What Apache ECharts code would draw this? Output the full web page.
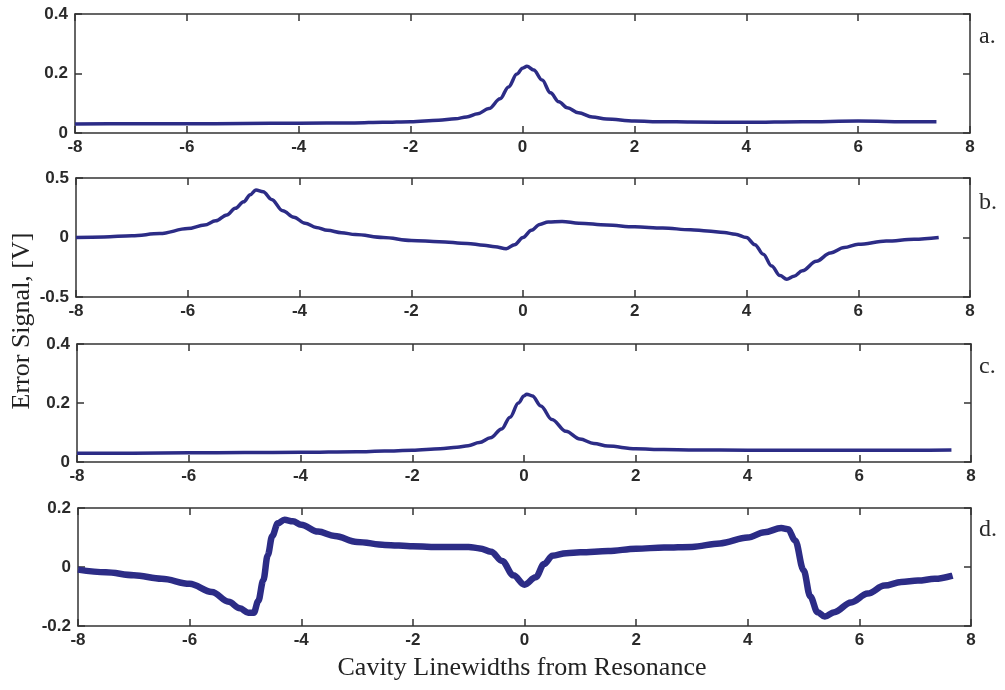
<!DOCTYPE html>
<html>
<head>
<meta charset="utf-8">
<script src="https://cdn.jsdelivr.net/npm/echarts@6/dist/echarts.min.js"></script>
<style>
  html, body { margin: 0; padding: 0; background: #fff; }
  #chart { width: 1005px; height: 690px; }
</style>
</head>
<body>
<div id="chart"></div>
<script>
// Detuning in cavity linewidths and measured error signal (V) for the four traces.
const xA = [-8, -7, -6, -5, -4, -3, -2.5, -2, -1.5, -1.2, -1, -0.8, -0.6, -0.4, -0.25, -0.1, 0, 0.08, 0.2, 0.35, 0.5, 0.65, 0.8, 1, 1.25, 1.5, 2, 2.5, 3, 4, 5, 6, 7, 7.4];
const yA = [0.030, 0.031, 0.031, 0.032, 0.033, 0.034, 0.036, 0.038, 0.043, 0.048, 0.054, 0.065, 0.082, 0.115, 0.155, 0.198, 0.218, 0.224, 0.212, 0.178, 0.135, 0.105, 0.085, 0.068, 0.054, 0.047, 0.040, 0.038, 0.037, 0.036, 0.038, 0.040, 0.038, 0.038];

const xB = [-8, -7.5, -7, -6.5, -6, -5.7, -5.5, -5.3, -5.15, -5, -4.88, -4.78, -4.65, -4.5, -4.3, -4.1, -3.9, -3.7, -3.5, -3.25, -3, -2.5, -2, -1.5, -1, -0.7, -0.5, -0.3, -0.15, 0, 0.15, 0.3, 0.45, 0.7, 1, 1.5, 2, 2.5, 3, 3.3, 3.6, 3.8, 4, 4.15, 4.3, 4.45, 4.6, 4.72, 4.85, 5, 5.25, 5.5, 5.75, 6, 6.5, 7, 7.44];
const yB = [0.0, 0.005, 0.015, 0.033, 0.075, 0.105, 0.14, 0.19, 0.245, 0.30, 0.36, 0.40, 0.385, 0.32, 0.225, 0.17, 0.12, 0.085, 0.06, 0.04, 0.025, 0.0, -0.025, -0.035, -0.05, -0.065, -0.078, -0.095, -0.06, 0.0, 0.06, 0.11, 0.13, 0.135, 0.12, 0.105, 0.09, 0.08, 0.065, 0.055, 0.042, 0.028, 0.0, -0.06, -0.14, -0.24, -0.32, -0.35, -0.325, -0.28, -0.2, -0.13, -0.085, -0.057, -0.03, -0.015, 0.0];

const xC = [-8, -7, -6, -5, -4, -3, -2.5, -2, -1.5, -1.2, -1, -0.8, -0.6, -0.4, -0.25, -0.1, 0, 0.05, 0.15, 0.3, 0.5, 0.75, 1, 1.25, 1.5, 2, 2.5, 3, 4, 5, 6, 7, 7.65];
const yC = [0.030, 0.030, 0.031, 0.032, 0.033, 0.035, 0.037, 0.040, 0.045, 0.050, 0.055, 0.066, 0.082, 0.112, 0.152, 0.200, 0.224, 0.230, 0.224, 0.190, 0.144, 0.104, 0.078, 0.063, 0.054, 0.045, 0.042, 0.041, 0.040, 0.040, 0.040, 0.040, 0.041];

const xD = [-8, -7.5, -7, -6.5, -6, -5.6, -5.3, -5.1, -4.95, -4.85, -4.77, -4.68, -4.6, -4.52, -4.42, -4.3, -4.15, -4, -3.7, -3.4, -3, -2.5, -2, -1.5, -1, -0.8, -0.6, -0.4, -0.2, 0, 0.2, 0.35, 0.5, 0.75, 1, 1.5, 2, 2.5, 3, 3.5, 4, 4.3, 4.6, 4.72, 4.85, 5, 5.12, 5.25, 5.38, 5.55, 5.85, 6.15, 6.45, 6.75, 7.05, 7.35, 7.67];
const yD = [-0.009, -0.018, -0.028, -0.04, -0.057, -0.085, -0.118, -0.14, -0.155, -0.155, -0.115, -0.045, 0.04, 0.105, 0.148, 0.16, 0.155, 0.143, 0.12, 0.105, 0.085, 0.075, 0.07, 0.068, 0.068, 0.063, 0.052, 0.02, -0.028, -0.06, -0.035, 0.01, 0.038, 0.047, 0.05, 0.054, 0.062, 0.066, 0.068, 0.08, 0.1, 0.118, 0.132, 0.128, 0.09, -0.011, -0.1, -0.153, -0.168, -0.153, -0.12, -0.09, -0.063, -0.051, -0.046, -0.04, -0.029];

// Axis ranges: [min, max, interval]
const xRange = [-8, 8, 2];
const yRanges = [[0, 0.4, 0.2], [-0.5, 0.5, 0.5], [0, 0.4, 0.2], [-0.2, 0.2, 0.2]];
const panelLabels = ['a.', 'b.', 'c.', 'd.'];
const yTitle = 'Error Signal, [V]';
const xTitle = 'Cavity Linewidths from Resonance';

const traces = [[xA, yA], [xB, yB], [xC, yC], [xD, yD]];
const lineWidths = [3.5, 3.5, 3.5, 6.5];
const LINE_COLOR = '#2c2c86';
const AXIS_COLOR = '#333';
const tickFont = { fontFamily: 'Liberation Sans, Arial, sans-serif', fontWeight: 'bold', fontSize: 17, color: '#2a2a2a' };

// Panel placement (px)
const boxes = [
  { left: 75, top: 14, width: 895, height: 119 },
  { left: 76, top: 178, width: 894, height: 119 },
  { left: 77, top: 344, width: 894, height: 118 },
  { left: 78, top: 508, width: 893, height: 118 }
];
const labelY = [37, 203, 367, 530];

const grid = [], xAxis = [], yAxis = [], series = [];
boxes.forEach((b, i) => {
  grid.push({ left: b.left, top: b.top, width: b.width, height: b.height, show: false });
  const tick = { show: true, inside: true, length: 7, lineStyle: { color: AXIS_COLOR, width: 1.5 } };
  const line = { show: true, onZero: false, lineStyle: { color: AXIS_COLOR, width: 1.5 } };
  // bottom axis with labels, top axis mirrors ticks
  xAxis.push({
    gridIndex: i, type: 'value', position: 'bottom', min: xRange[0], max: xRange[1], interval: xRange[2],
    axisLine: line, axisTick: tick, splitLine: { show: false },
    axisLabel: Object.assign({ margin: 6, showMinLabel: true, showMaxLabel: true }, tickFont)
  });
  xAxis.push({
    gridIndex: i, type: 'value', position: 'top', min: xRange[0], max: xRange[1], interval: xRange[2],
    axisLine: line, axisTick: tick, splitLine: { show: false }, axisLabel: { show: false }
  });
  const r = yRanges[i];
  yAxis.push({
    gridIndex: i, type: 'value', position: 'left', min: r[0], max: r[1], interval: r[2],
    axisLine: line, axisTick: tick, splitLine: { show: false },
    axisLabel: Object.assign({ margin: 7 }, tickFont)
  });
  yAxis.push({
    gridIndex: i, type: 'value', position: 'right', min: r[0], max: r[1], interval: r[2],
    axisLine: line, axisTick: tick, splitLine: { show: false }, axisLabel: { show: false }
  });
  const [xs, ys] = traces[i];
  series.push({
    type: 'line', xAxisIndex: 2 * i, yAxisIndex: 2 * i,
    data: xs.map((x, k) => [x, ys[k]]),
    showSymbol: false, smooth: 0.35, smoothMonotone: 'x',
    lineStyle: { color: LINE_COLOR, width: lineWidths[i] },
    silent: true, animation: false
  });
});

const serif = 'Liberation Serif, Times New Roman, serif';
const graphic = [
  {
    type: 'text', x: 22, y: 321, rotation: Math.PI / 2,
    style: { text: yTitle, font: '26px ' + serif, fill: '#222', textAlign: 'center', textVerticalAlign: 'middle' }
  },
  {
    type: 'text', x: 522, y: 668,
    style: { text: xTitle, font: '26px ' + serif, fill: '#222', textAlign: 'center', textVerticalAlign: 'middle' }
  }
];
panelLabels.forEach((t, i) => {
  graphic.push({
    type: 'text', x: 979, y: labelY[i],
    style: { text: t, font: '24px ' + serif, fill: '#2a2a2a', textAlign: 'left', textVerticalAlign: 'middle' }
  });
});

const chart = echarts.init(document.getElementById('chart'), null, { renderer: 'canvas' });
chart.setOption({ animation: false, backgroundColor: '#fff', grid, xAxis, yAxis, series, graphic });
</script>
</body>
</html>
